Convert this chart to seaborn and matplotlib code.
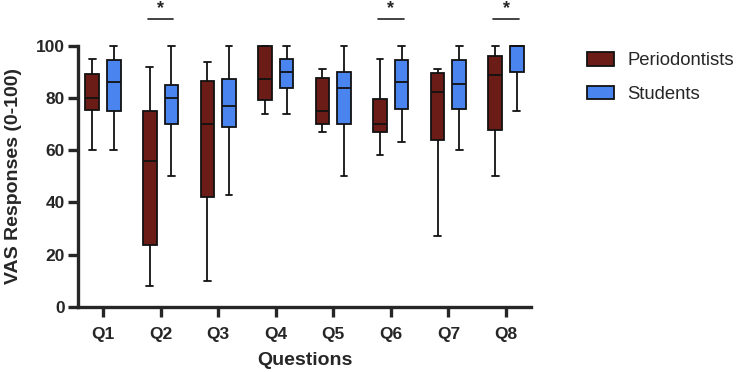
import matplotlib
matplotlib.use("Agg")
import matplotlib.pyplot as plt
import seaborn as sns
import pandas as pd

# five-number summaries: min, q1, median, q3, max
questions = ['Q1', 'Q2', 'Q3', 'Q4', 'Q5', 'Q6', 'Q7', 'Q8']
groups = ['Periodontists', 'Students']
perio = [
    [60, 75.4, 80, 89.3, 95],
    [8, 23.7, 56, 75, 92],
    [10, 42.2, 70, 86.7, 94],
    [74, 79.2, 87.5, 100, 100],
    [67, 70.1, 75, 87.6, 91],
    [58, 67, 70, 79.7, 95],
    [27, 64, 82.5, 89.6, 91],
    [50, 67.7, 89, 96, 100],
]
students = [
    [60, 75, 86, 94.8, 100],
    [50, 70.1, 80, 85, 100],
    [43, 68.8, 77, 87.3, 100],
    [74, 83.8, 90, 95, 100],
    [50, 70.1, 84, 90.1, 100],
    [63, 75.8, 86, 94.8, 100],
    [60, 75.8, 85.4, 94.8, 100],
    [75, 90.1, 100, 100, 100],
]
significant = ['Q2', 'Q6', 'Q8']
colors = ['#6B1C16', '#4A84EE']

rows = []
for q, p, s in zip(questions, perio, students):
    for v in p:
        rows.append((q, groups[0], v))
    for v in s:
        rows.append((q, groups[1], v))
df = pd.DataFrame(rows, columns=['Question', 'Group', 'Value'])

sns.set_style('ticks')
plt.rcParams['font.family'] = ['Liberation Sans', 'DejaVu Sans']

fig = plt.figure(figsize=(7.44, 3.72), dpi=100)
ax = fig.add_axes([78 / 744, 1 - 306.7 / 372, 453 / 744, 260.7 / 372])

sns.boxplot(data=df, x='Question', y='Value', hue='Group', order=questions,
            hue_order=groups, palette=colors, saturation=1, whis=(0, 100),
            width=0.75, gap=0.375, linecolor='#111111', linewidth=1.3, ax=ax)

for art in ax.lines + ax.patches:
    art.set_clip_on(False)

ax.set_ylim(0, 100)
ax.set_xlim(-0.434, 7.434)
ax.set_yticks([0, 20, 40, 60, 80, 100])
for side in ['left', 'bottom']:
    ax.spines[side].set_linewidth(2.4)
sns.despine(ax=ax)
ax.tick_params(axis='both', width=2.4, length=7.5, labelsize=12.5)
ax.tick_params(axis='y', pad=2)
ax.tick_params(axis='x', pad=7)
for lab in ax.get_xticklabels() + ax.get_yticklabels():
    lab.set_fontweight('bold')
ax.set_xlabel('Questions', fontsize=14, fontweight='bold', labelpad=7)
ax.set_ylabel('VAS Responses (0-100)', fontsize=14, fontweight='bold', labelpad=10)

for q in significant:
    i = questions.index(q)
    ax.plot([i - 0.22, i + 0.22], [110.4, 110.4], color='#222222', lw=1.2, clip_on=False)
    ax.text(i, 111.0, '*', ha='center', va='bottom', fontsize=13, fontweight='bold')

handles, labels = ax.get_legend_handles_labels()
ax.legend_.remove()
fig.legend(handles, labels, loc='upper left', bbox_to_anchor=(587 / 744, 1 - 52 / 372),
           frameon=False, fontsize=13.3, handlelength=1.45, handleheight=0.75,
           handletextpad=0.75, labelspacing=0.9, borderpad=0, borderaxespad=0)

fig.savefig('out.png', dpi=100)
